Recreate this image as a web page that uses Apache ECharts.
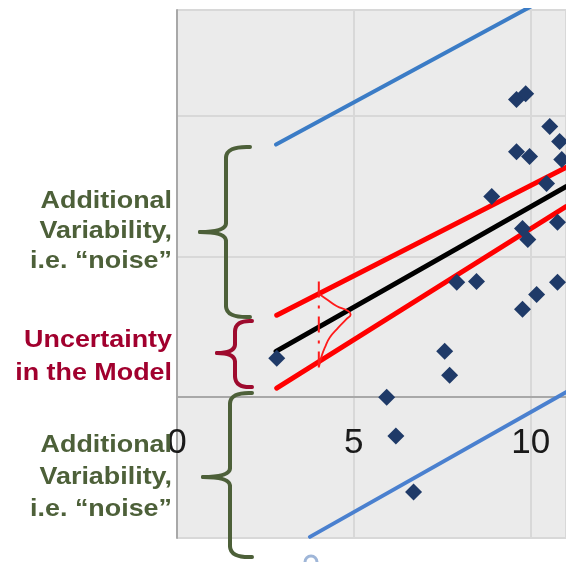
<!DOCTYPE html>
<html>
<head>
<meta charset="utf-8">
<script src="https://cdn.jsdelivr.net/npm/echarts@6/dist/echarts.min.js"></script>
<style>
html,body{margin:0;padding:0;background:#ffffff;}
#chart{width:566px;height:563px;}
</style>
</head>
<body>
<div id="chart"></div>
<script>
// ---- data ----
const xTickLabels = ['0', '5', '10'];
const pointsX = [2.82, 9.60, 9.86, 10.54, 10.82, 9.60, 9.97, 10.88, 8.90, 10.45, 10.76, 9.77, 9.92, 7.91, 8.47, 10.17, 9.77, 10.76, 7.57, 7.71, 5.93, 6.19, 6.69];
const pointsY = [1.38, 10.57, 10.78, 9.61, 9.08, 8.72, 8.55, 8.44, 7.13, 7.59, 6.21, 5.99, 5.60, 4.08, 4.11, 3.65, 3.12, 4.08, 1.63, 0.78, 0.00, -1.38, -3.37];

const fitX = [2.80, 11.0];
const fitY = [1.63, 7.48];
const ciX = [2.82, 11.0];
const ciUpperY = [2.91, 8.16];
const ciLowerY = [0.32, 6.77];
const piUpperX = [2.80, 11.0];
const piUpperY = [8.97, 14.55];
const piLowerX = [3.76, 11.0];
const piLowerY = [-4.96, 0.18];

const markerX = [4.01, 4.01];
const markerY = [4.11, 0.89];
const bellX = [4.04, 4.23, 4.51, 4.84, 4.91, 4.79, 4.56, 4.32, 4.18, 4.09, 4.02];
const bellY = [3.65, 3.48, 3.24, 3.06, 2.94, 2.77, 2.47, 2.12, 1.76, 1.46, 1.11];

const zip = (a, b) => a.map((v, i) => [v, b[i]]);

const green = '#4d6039';
const maroon = '#a1002e';
const txtFont = '"Liberation Sans", Arial, sans-serif';

const chart = echarts.init(document.getElementById('chart'), null, {renderer: 'canvas'});

function lineSeries(data, color, width, z, extra) {
  return Object.assign({
    type: 'line', data: data, showSymbol: false, symbol: 'none',
    lineStyle: {color: color, width: width, cap: 'round'},
    z: z, silent: true, animation: false, clip: true
  }, extra || {});
}

// curly bracket annotation built from lines and quadratic curves
function bracket(xEnd, xV, xTip, yTop, yMid, yBot, color) {
  const st = {stroke: color, lineWidth: 4, fill: 'none', lineCap: 'round'};
  const r = 11;
  const items = [
    {type: 'bezierCurve', shape: {x1: xEnd, y1: yTop, cpx1: xV, cpy1: yTop - 1, x2: xV, y2: yTop + r}},
    {type: 'line', shape: {x1: xV, y1: yTop + r, x2: xV, y2: yMid - 9}},
    {type: 'bezierCurve', shape: {x1: xV, y1: yMid - 9, cpx1: xV, cpy1: yMid, x2: xTip, y2: yMid}},
    {type: 'bezierCurve', shape: {x1: xTip, y1: yMid, cpx1: xV, cpy1: yMid, x2: xV, y2: yMid + 9}},
    {type: 'line', shape: {x1: xV, y1: yMid + 9, x2: xV, y2: yBot - r}},
    {type: 'bezierCurve', shape: {x1: xV, y1: yBot - r, cpx1: xV, cpy1: yBot + 1, x2: xEnd, y2: yBot}}
  ];
  return items.map(it => Object.assign(it, {style: st, z: 100, silent: true}));
}

const labelFormatter = function (v) { const i = [0, 5, 10].indexOf(v); return i >= 0 ? xTickLabels[i] : ''; };

chart.setOption({
  animation: false,
  grid: {left: 177, right: 0, top: 10, bottom: 25, show: true, backgroundColor: '#ebebeb', borderWidth: 0,
         containLabel: false, outerBoundsMode: 'none'},
  xAxis: [{
    type: 'value', min: 0, max: 11, interval: 5,
    axisLine: {show: true, onZero: true, lineStyle: {color: '#a8a8a8', width: 2}},
    axisTick: {show: false},
    splitLine: {show: true, lineStyle: {color: '#d8d8d8', width: 2}},
    axisLabel: {show: false}
  }, {
    type: 'value', min: 0, max: 11, interval: 5, position: 'bottom', offset: -140,
    axisLine: {show: false, onZero: false},
    axisTick: {show: false},
    splitLine: {show: false},
    axisLabel: {
      show: true, fontSize: 35, color: '#1a1a1a', fontFamily: txtFont, margin: 28,
      showMaxLabel: false, hideOverlap: false, formatter: labelFormatter
    }
  }],
  yAxis: {
    type: 'value', min: -5, max: 13.75, interval: 5,
    axisLine: {show: true, onZero: false, lineStyle: {color: '#a8a8a8', width: 2}},
    axisTick: {show: false},
    axisLabel: {show: false},
    splitLine: {show: true, lineStyle: {color: '#d8d8d8', width: 2}}
  },
  series: [
    lineSeries(zip(piUpperX, piUpperY), '#3b7cc6', 4, 2),
    lineSeries(zip(piLowerX, piLowerY), '#4a80cf', 4, 2),
    lineSeries(zip(ciX, ciUpperY), '#ff0000', 5, 3),
    lineSeries(zip(ciX, ciLowerY), '#ff0000', 5, 3),
    lineSeries(zip(fitX, fitY), '#000000', 5, 4),
    {
      type: 'scatter', data: zip(pointsX, pointsY), symbol: 'diamond', symbolSize: 17,
      itemStyle: {color: '#1f3a68', opacity: 1}, z: 5, silent: true
    },
    lineSeries(zip(markerX, markerY), '#ff1a1a', 2, 6, {lineStyle: {color: '#ff1a1a', width: 2, type: [16, 8, 3, 8]}}),
    lineSeries(zip(bellX, bellY), '#ff1a1a', 1.8, 6, {smooth: true})
  ],
  graphic: [].concat(
    [
      {type: 'text', x: 172, y: 186, scaleX: 1.12, z: 100,
       style: {text: 'Additional\nVariability,\ni.e. \u201cnoise\u201d', fill: green, font: 'bold 24px ' + txtFont, align: 'right', verticalAlign: 'top', lineHeight: 30}},
      {type: 'text', x: 172, y: 324, scaleX: 1.12, z: 100,
       style: {text: 'Uncertainty\nin the Model', fill: maroon, font: 'bold 24px ' + txtFont, align: 'right', verticalAlign: 'top', lineHeight: 33}},
      {type: 'text', x: 172, y: 429, scaleX: 1.12, z: 100,
       style: {text: 'Additional\nVariability,\ni.e. \u201cnoise\u201d', fill: green, font: 'bold 24px ' + txtFont, align: 'right', verticalAlign: 'top', lineHeight: 32}},
      {type: 'arc', z: 100, shape: {cx: 311, cy: 562, r: 6, startAngle: Math.PI, endAngle: 2 * Math.PI},
       style: {fill: 'none', stroke: '#9fb6d8', lineWidth: 3}}
    ],
    bracket(250, 226, 200, 147, 232, 317, green),
    bracket(252, 235, 217, 321, 353, 387, '#9e0b2e'),
    bracket(252, 230, 203, 393, 477, 557, green)
  )
});
</script>
</body>
</html>
